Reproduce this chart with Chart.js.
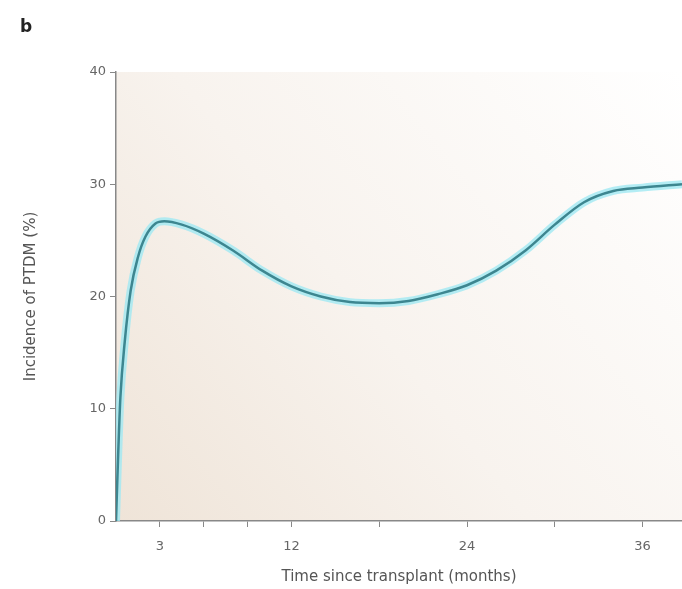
<!DOCTYPE html>
<html>
<head>
<meta charset="utf-8">
<script src="https://cdn.jsdelivr.net/npm/chart.js@4/dist/chart.umd.min.js"></script>
<style>
  html, body { margin: 0; padding: 0; background: #fff; overflow: hidden; }
  #wrap { width: 682px; height: 589px; }
</style>
</head>
<body>
<div id="wrap"><canvas id="ptdmChart" width="682" height="589"></canvas></div>
<script>
// Data (months since transplant, incidence %)
const months = [0, 0.15, 0.3, 0.6, 1.0, 1.5, 2.0, 2.7, 3.3, 4.5, 6, 8, 10, 12, 14, 16, 18, 20, 22, 24, 26, 28, 30, 32, 34, 36, 38.7];
const incidence = [0, 6, 11, 16, 20.5, 23.5, 25.3, 26.5, 26.7, 26.4, 25.6, 24.1, 22.3, 20.9, 20.0, 19.5, 19.4, 19.6, 20.2, 21.0, 22.3, 24.1, 26.4, 28.4, 29.4, 29.7, 30.0];
const xTicks = [3, 6, 9, 12, 18, 24, 30, 36];
const xLabels = [3, 12, 24, 36];
const yTicks = [0, 10, 20, 30, 40];

const points = months.map((m, i) => ({ x: m, y: incidence[i] }));

// Background wash and the panel letter
const panelPlugin = {
    id: 'panel',
    beforeDraw(chart) {
        const { ctx, chartArea: a } = chart;
        const g = ctx.createLinearGradient(a.left, a.bottom, a.right, a.top);
        g.addColorStop(0, '#efe4d8');
        g.addColorStop(0.45, '#f8f3ee');
        g.addColorStop(1, '#ffffff');
        ctx.save();
        ctx.fillStyle = g;
        ctx.fillRect(a.left, a.top, a.right - a.left, a.bottom - a.top);
        ctx.restore();
    },
    afterDraw(chart) {
        const ctx = chart.ctx;
        ctx.save();
        ctx.fillStyle = '#222';
        ctx.font = 'bold 17px "DejaVu Sans", sans-serif';
        ctx.fillText('b', 20, 32);
        ctx.restore();
    }
};

const ctx = document.getElementById('ptdmChart').getContext('2d');
new Chart(ctx, {
    type: 'line',
    data: {
        datasets: [{
            data: points,
            borderColor: '#3d8690',
            borderWidth: 2.5,
            pointRadius: 0,
            cubicInterpolationMode: 'monotone',
            order: 0
        }, {
            // soft cyan halo under the line
            data: points,
            borderColor: 'rgba(160, 232, 242, 0.8)',
            borderWidth: 8,
            pointRadius: 0,
            cubicInterpolationMode: 'monotone',
            order: 1
        }]
    },
    options: {
        responsive: false,
        animation: false,
        layout: { padding: { top: 72, right: 0, left: 0, bottom: 0 } },
        plugins: {
            legend: { display: false },
            tooltip: { enabled: false }
        },
        scales: {
            x: {
                type: 'linear',
                min: 0,
                max: 38.7,
                afterBuildTicks: (s) => { s.ticks = xTicks.map(v => ({ value: v })); },
                afterFit: (s) => { s.height = 68; },
                grid: { drawOnChartArea: false, drawTicks: true, tickLength: 6, color: '#888', tickColor: '#888' },
                border: { display: true, color: '#888', width: 1.5 },
                ticks: {
                    autoSkip: false,
                    maxRotation: 0,
                    padding: 12,
                    color: '#666',
                    font: { family: '"DejaVu Sans", sans-serif', size: 13 },
                    callback: (v) => xLabels.includes(v) ? String(v) : ''
                },
                title: {
                    display: true,
                    text: 'Time since transplant (months)',
                    color: '#555',
                    padding: { top: 0, bottom: 3 },
                    font: { family: '"DejaVu Sans", sans-serif', size: 15 }
                }
            },
            y: {
                min: 0,
                max: 40,
                afterBuildTicks: (s) => { s.ticks = yTicks.map(v => ({ value: v })); },
                afterFit: (s) => { s.width = 116; },
                grid: { drawOnChartArea: false, drawTicks: true, tickLength: 6, color: '#888', tickColor: '#888' },
                border: { display: true, color: '#888', width: 1.5 },
                ticks: {
                    padding: 4,
                    color: '#666',
                    font: { family: '"DejaVu Sans", sans-serif', size: 13 }
                },
                title: {
                    display: true,
                    text: 'Incidence of PTDM (%)',
                    color: '#555',
                    padding: { top: 22, bottom: 0 },
                    font: { family: '"DejaVu Sans", sans-serif', size: 15 }
                }
            }
        }
    },
    plugins: [panelPlugin]
});
</script>
</body>
</html>
